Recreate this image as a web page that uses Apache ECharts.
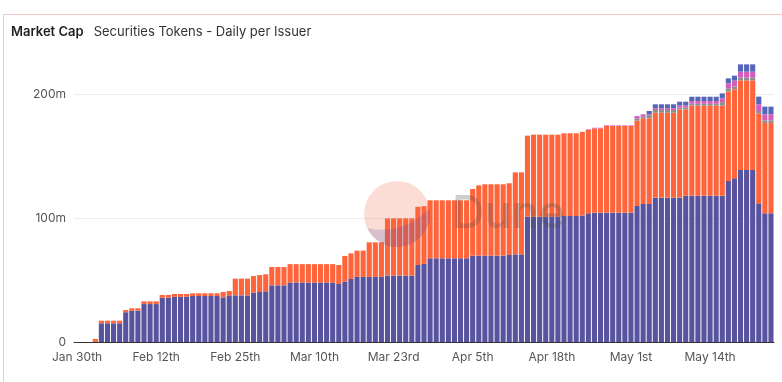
<!DOCTYPE html>
<html>
<head>
<meta charset="utf-8">
<script src="https://cdn.jsdelivr.net/npm/echarts@6/dist/echarts.min.js"></script>
<style>
html,body{margin:0;padding:0;background:#fff;}
#chart{width:782px;height:382px;}
</style>
</head>
<body>
<div id="chart"></div>
<script>
// ---- Data ----
const startDate = '2025-01-30';
const dayCount = 115;
const yTicks = [0, 100, 200];

const seriesNames = ['Issuer A', 'Issuer B', 'Issuer C', 'Issuer D', 'Issuer E'];

const issuerA = [
  0,0,0,0,
  15.1,15.1,15.1,15.1,
  24,
  25.3,25.3,
  30.6,30.6,30.6,
  35.7,35.7,
  36.5,36.5,36.5,
  37.1,37.1,37.1,37.1,37.1,
  36,
  37.6,
  37.6,37.6,37.6,
  39.8,
  40.3,
  40.9,
  45.7,45.7,45.7,
  48,48,48,48,48,48,48,48,
  46.8,
  48.6,
  50.8,
  52.5,52.5,
  52.5,52.5,52.5,
  53.6,53.6,53.6,53.6,53.6,
  62.1,
  63,
  67.5,67.5,67.5,67.5,67.5,67.5,67.5,
  69.6,69.6,69.6,69.6,69.6,69.6,
  70.2,
  70.7,70.7,
  101,101,101,101,101,101,
  101.6,101.6,101.6,
  102,
  103.8,
  104.3,104.3,104.3,104.3,104.3,104.3,104.3,
  109.7,
  111.3,111.3,
  116.4,116.4,116.4,116.4,116.4,
  118,118,118,118,118,118,118,
  129.8,
  132,
  138.7,138.7,138.7,
  111.8,
  103.8,103.8
];

const issuerB = [
  0,0,0,2.5,
  2.1,2.1,2.1,2.1,
  1.8,
  1.9,1.9,
  2.2,2.2,2.2,
  2.2,2.2,
  2.2,2.2,2.2,
  2.2,2.2,2.2,2.2,2.2,
  4.3,
  3.5,
  13.5,13.5,13.5,
  13.4,
  13.7,
  13.7,
  14.8,14.8,14.8,
  14.8,14.8,14.8,14.8,14.8,14.8,14.8,14.8,
  15.3,
  20.8,
  20.7,
  21.2,21.2,
  27.9,27.9,27.9,
  46.1,46.1,46.1,46.1,46.1,
  46.9,
  46.5,
  46.8,46.8,46.8,46.8,46.8,46.8,46.8,
  53.8,
  56.7,
  57.6,57.6,57.6,57.6,
  57.8,
  66.1,66.1,
  65.4,
  66.2,66.2,66.2,66.2,66.2,
  66.7,66.7,66.7,
  67.5,
  67.2,
  68,68,
  69.9,69.9,69.9,69.9,69.9,
  68.8,
  69.1,69.1,
  68.5,68.5,68.5,68.5,
  71.2,
  69.6,
  72.6,72.6,72.6,72.6,72.6,72.6,
  72.1,
  71.8,
  72.3,72.3,72.3,
  72.3,
  72.8,72.8
];

const issuerC = [
  0,0,0,0,0,0,0,0,0,0,0,0,0,0,0,0,0,0,0,0,
  0,0,0,0,0,0,0,0,0,0,0,0,0,0,0,0,0,0,0,0,
  0,0,0,0,0,0,0,0,0,0,0,0,0,0,0,0,0,0,0,0,
  0,0,0,0,0,0,0,0,0,0,0,0,0,0,0,0,0,0,0,0,
  0,0,0,0,0,0,0,0,0,0,0,0,
  1.6,
  1.3,
  2.7,
  2.2,2.2,2.2,2.2,
  1.4,1.4,
  1.5,1.5,1.5,1.5,1.5,
  2.9,
  2.7,
  2.2,
  2.2,2.2,2.2,2.2,2.2,2.2
];

const issuerD = [
  0,0,0,0,0,0,0,0,0,0,0,0,0,0,0,0,0,0,0,0,
  0,0,0,0,0,0,0,0,0,0,0,0,0,0,0,0,0,0,0,0,
  0,0,0,0,0,0,0,0,0,0,0,0,0,0,0,0,0,0,0,0,
  0,0,0,0,0,0,0,0,0,0,0,0,0,0,0,0,0,0,0,0,
  0,0,0,0,
  0.5,0.5,0.5,0.5,0.5,0.5,0.5,0.5,
  1.9,
  1.9,
  0.5,
  1.4,1.4,1.4,1.4,
  1.8,1.8,
  2.2,2.2,2.2,2.2,2.2,
  3,
  4,
  4.8,
  4.8,4.8,4.8,
  5.4,
  4.8,4.8
];

const issuerE = [
  0,0,0,0,0,0,0,0,0,0,0,0,0,0,0,0,0,0,0,0,
  0,0,0,0,0,0,0,0,0,0,0,0,0,0,0,0,0,0,0,0,
  0,0,0,0,0,0,0,0,0,0,0,0,0,0,0,0,0,0,0,0,
  0,0,0,0,0,0,0,0,0,0,0,0,0,0,0,0,0,0,0,0,
  0,0,0,0,0,0,0,0,0,0,0,0,
  0.3,
  0,
  2.7,
  3.2,3.2,3.2,3.2,
  3,3,
  3.5,3.5,3.5,3.5,3.5,
  4,
  4,
  4,
  5.9,5.9,5.9,
  6.2,
  6.2,6.2
];

const colors = ['#57539e', '#ff643a', '#8e8e8a', '#d45cbb', '#5566b8'];

// ---- Build categories (consecutive days) ----
const months = ['Jan','Feb','Mar','Apr','May','Jun','Jul','Aug','Sep','Oct','Nov','Dec'];
function ordinal(d) {
  if (d % 10 === 1 && d !== 11) return d + 'st';
  if (d % 10 === 2 && d !== 12) return d + 'nd';
  if (d % 10 === 3 && d !== 13) return d + 'rd';
  return d + 'th';
}
const categories = [];
{
  const base = new Date(startDate + 'T00:00:00Z');
  for (let i = 0; i < dayCount; i++) {
    const d = new Date(base.getTime() + i * 86400000);
    categories.push(months[d.getUTCMonth()] + ' ' + ordinal(d.getUTCDate()));
  }
}

const allData = [issuerA, issuerB, issuerC, issuerD, issuerE];

// watermark logo lower segment polygon (decoration only)
function logoSegment(cx, cy, r) {
  const pts = [];
  const a0 = -9 * Math.PI / 180, a1 = 155 * Math.PI / 180;
  for (let k = 0; k <= 24; k++) {
    const a = a0 + (a1 - a0) * k / 24;
    pts.push([cx + r * Math.cos(a), cy + r * Math.sin(a)]);
  }
  const p0 = pts[pts.length - 1], p2 = pts[0];
  const c = [cx + 3, cy + 22];
  for (let k = 1; k < 16; k++) {
    const t = k / 16;
    pts.push([
      (1 - t) * (1 - t) * p0[0] + 2 * (1 - t) * t * c[0] + t * t * p2[0],
      (1 - t) * (1 - t) * p0[1] + 2 * (1 - t) * t * c[1] + t * t * p2[1]
    ]);
  }
  return pts;
}

const chart = echarts.init(document.getElementById('chart'), null, {renderer: 'canvas'});
const FONT = 'Inter, "Noto Sans", sans-serif';

chart.setOption({
  animation: false,
  color: colors,
  title: {
    left: 11, top: 26, padding: 0,
    text: '{a|Market Cap}{b|Securities Tokens - Daily per Issuer}',
    textStyle: {
      rich: {
        a: { fontSize: 13, fontWeight: 600, color: '#1f1f1f', fontFamily: FONT },
        b: { fontSize: 13, fontWeight: 400, color: '#333', fontFamily: FONT, padding: [0, 0, 0, 10] }
      }
    }
  },
  grid: { left: 74, right: 8, top: -30, bottom: 40, outerBoundsMode: 'none', containLabel: false },
  xAxis: {
    type: 'category',
    data: categories,
    boundaryGap: true,
    axisLine: { show: true, lineStyle: { color: '#333', width: 1 } },
    axisTick: { show: false },
    axisLabel: { interval: 12, color: '#555', fontSize: 12, fontFamily: FONT, margin: 9 },
    splitLine: { show: false }
  },
  yAxis: {
    type: 'value',
    min: 0, max: 300, interval: 100,
    axisLine: { show: false },
    axisTick: { show: false },
    axisLabel: {
      color: '#555', fontSize: 12, fontFamily: FONT, margin: 8,
      formatter: v => (yTicks.indexOf(v) < 0 ? '' : (v === 0 ? '0' : v + 'm'))
    },
    splitLine: { lineStyle: { color: '#eeeeee', width: 1 } }
  },
  series: allData.map((d, k) => ({
    name: seriesNames[k],
    type: 'bar',
    stack: 'total',
    data: d,
    barCategoryGap: '16%',
    itemStyle: { color: colors[k] }
  })),
  graphic: [
    { type: 'rect', shape: { x: 3.5, y: 14.5, width: 900, height: 500 }, style: { fill: 'none', stroke: '#f5c4c4', lineWidth: 1 }, z: 0, silent: true },
    { type: 'circle', shape: { cx: 397, cy: 214, r: 33 }, style: { fill: 'rgba(242,100,70,0.22)' }, z: 100, silent: true },
    { type: 'polygon', shape: { points: logoSegment(397, 214, 33) }, style: { fill: 'rgba(70,70,170,0.2)' }, z: 100, silent: true },
    { type: 'text', left: 452, top: 192, style: { text: 'Dune', fontSize: 45, fontWeight: 500, fill: 'rgba(80,80,80,0.28)', fontFamily: FONT }, z: 100, silent: true }
  ]
});
</script>
</body>
</html>
